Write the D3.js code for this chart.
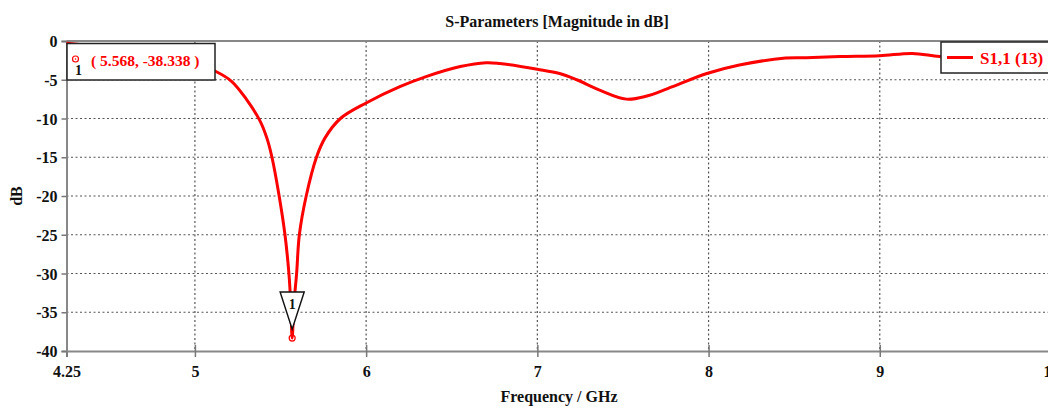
<!DOCTYPE html>
<html>
<head>
<meta charset="utf-8">
<script src="https://cdn.jsdelivr.net/npm/d3@7"></script>
<style>
  body { margin: 0; background: #fff; }
  text { font-family: "Liberation Serif", "DejaVu Serif", serif; font-weight: bold; }
</style>
</head>
<body>
<div id="chart"></div>
<script>
// data
const freq = [4.25, 4.5, 4.75, 5.0, 5.12, 5.214, 5.30, 5.38, 5.42, 5.45, 5.492, 5.526, 5.549, 5.56, 5.568,
  5.578, 5.594, 5.61, 5.65, 5.71, 5.76, 5.85, 6.0, 6.197, 6.35, 6.55, 6.70, 6.78,
  7.0, 7.13, 7.23, 7.36, 7.52, 7.64, 7.72, 7.79, 7.99, 8.18, 8.45, 8.57, 8.77,
  9.0, 9.19, 9.35, 9.6, 10.0]
const s11 = [-0.3, -0.9, -1.7, -2.9, -3.9, -5.2, -7.5, -10.3, -12.5, -15.0, -20.0, -25.0, -30.0, -34.0, -38.338,
  -34.0, -30.0, -25.0, -20.0, -15.0, -12.5, -10.0, -8.0, -5.9, -4.6, -3.3, -2.8, -2.9,
  -3.65, -4.2, -5.0, -6.3, -7.5, -7.1, -6.5, -5.9, -4.2, -3.1, -2.2, -2.15, -2.0,
  -1.9, -1.6, -2.0, -2.3, -2.5]
const xTicks = [4.25, 5, 6, 7, 8, 9, 10]
const yTicks = [0, -5, -10, -15, -20, -25, -30, -35, -40]
const marker = { f: 5.568, db: -38.338, label: "1" }
const seriesName = "S1,1 (13)"

// dimensions
let dimensions = {
  width: 1048,
  height: 408,
  left: 66.5,
  right: 1051,
  top: 41,
  bottom: 351,
}

const svg = d3.select("#chart")
  .append("svg")
    .attr("width", dimensions.width)
    .attr("height", dimensions.height)

// scales
const xScale = d3.scaleLinear()
  .domain([4.25, 10])
  .range([dimensions.left, dimensions.right])

const yScale = d3.scaleLinear()
  .domain([-40, 0])
  .range([dimensions.bottom, dimensions.top])

// grid
const grid = svg.append("g")
grid.selectAll("line.vx")
  .data(xTicks.slice(1, -1))
  .join("line")
    .attr("x1", d => xScale(d)).attr("x2", d => xScale(d))
    .attr("y1", dimensions.top).attr("y2", dimensions.bottom)
    .attr("stroke", "#555").attr("stroke-width", 1.2)
    .attr("stroke-dasharray", "2,2.5")
grid.selectAll("line.hy")
  .data(yTicks.slice(1, -1))
  .join("line")
    .attr("x1", dimensions.left).attr("x2", dimensions.right)
    .attr("y1", d => yScale(d)).attr("y2", d => yScale(d))
    .attr("stroke", "#555").attr("stroke-width", 1.2)
    .attr("stroke-dasharray", "2,2.5")

// axes
const xAxis = svg.append("g")
  .attr("transform", `translate(0, ${dimensions.bottom})`)
  .call(d3.axisBottom(xScale).tickValues(xTicks).tickFormat(d => d).tickSize(6).tickPadding(9))
const yAxis = svg.append("g")
  .attr("transform", `translate(${dimensions.left}, 0)`)
  .call(d3.axisLeft(yScale).tickValues(yTicks).tickFormat(d => d).tickSize(5).tickPadding(4))

svg.selectAll(".domain").attr("stroke", "#888").attr("stroke-width", 2)
svg.selectAll(".tick line").attr("stroke", "#777").attr("stroke-width", 1.5)
xAxis.selectAll(".tick line").attr("y1", -6)
svg.selectAll(".tick text")
  .attr("font-size", 16).attr("font-family", "Liberation Serif")
  .attr("font-weight", "bold").attr("fill", "#111")
yAxis.selectAll(".tick text").attr("dy", "0.35em")

// top frame
svg.append("line")
  .attr("x1", dimensions.left).attr("x2", dimensions.right)
  .attr("y1", dimensions.top).attr("y2", dimensions.top)
  .attr("stroke", "#888").attr("stroke-width", 2)

// curve
const points = freq.map((f, i) => ({ f: f, db: s11[i] }))
const lineGenerator = d3.line()
  .x(p => xScale(p.f))
  .y(p => yScale(p.db))
  .curve(d3.curveCatmullRom.alpha(0.5))

svg.append("path")
  .attr("d", lineGenerator(points))
  .attr("fill", "none")
  .attr("stroke", "#ff0000")
  .attr("stroke-width", 3)
  .attr("stroke-linejoin", "round")

// marker triangle
const mx = xScale(marker.f)
const my = yScale(marker.db)
svg.append("path")
  .attr("d", `M${mx - 12},${my - 46} L${mx + 12},${my - 46} L${mx},${my - 9} Z`)
  .attr("fill", "#fff").attr("stroke", "#111").attr("stroke-width", 1.5)
svg.append("text")
  .attr("x", mx).attr("y", my - 29)
  .attr("text-anchor", "middle").attr("font-size", 14).attr("fill", "#111")
  .text(marker.label)
svg.append("circle")
  .attr("cx", mx).attr("cy", my).attr("r", 3)
  .attr("fill", "none").attr("stroke", "#ff0000").attr("stroke-width", 1.2)
svg.append("circle")
  .attr("cx", mx).attr("cy", my).attr("r", 0.8).attr("fill", "#ff0000")

// marker readout box
svg.append("rect")
  .attr("x", 67).attr("y", 43.5).attr("width", 148).attr("height", 36.5)
  .attr("fill", "#fff").attr("stroke", "#222").attr("stroke-width", 1.5)
svg.append("circle").attr("cx", 75.5).attr("cy", 59).attr("r", 3)
  .attr("fill", "none").attr("stroke", "#ff0000").attr("stroke-width", 1.2)
svg.append("circle").attr("cx", 75.5).attr("cy", 59).attr("r", 0.8).attr("fill", "#ff0000")
svg.append("text").attr("x", 75).attr("y", 75)
  .attr("font-size", 14).attr("fill", "#111").text(marker.label)
svg.append("text").attr("x", 91).attr("y", 66)
  .attr("font-size", 15.5).attr("fill", "#ff0000")
  .text(`( ${marker.f.toFixed(3)}, ${marker.db.toFixed(3)} )`)

// legend
svg.append("rect")
  .attr("x", 941).attr("y", 42).attr("width", 112).attr("height", 31)
  .attr("fill", "#fff").attr("stroke", "#222").attr("stroke-width", 1.5)
svg.append("line")
  .attr("x1", 947).attr("x2", 973).attr("y1", 57.5).attr("y2", 57.5)
  .attr("stroke", "#ff0000").attr("stroke-width", 3)
svg.append("text").attr("x", 980).attr("y", 63.5)
  .attr("font-size", 17).attr("fill", "#ff0000").text(seriesName)

// titles
svg.append("text")
  .attr("x", 557).attr("y", 27)
  .attr("text-anchor", "middle").attr("font-size", 16).attr("fill", "#111")
  .text("S-Parameters [Magnitude in dB]")
svg.append("text")
  .attr("x", 559).attr("y", 402)
  .attr("text-anchor", "middle").attr("font-size", 16).attr("fill", "#111")
  .text("Frequency / GHz")
svg.append("text")
  .attr("transform", `translate(22, ${(dimensions.top + dimensions.bottom) / 2}) rotate(-90)`)
  .attr("text-anchor", "middle").attr("font-size", 16).attr("fill", "#111")
  .text("dB")
</script>
</body>
</html>
